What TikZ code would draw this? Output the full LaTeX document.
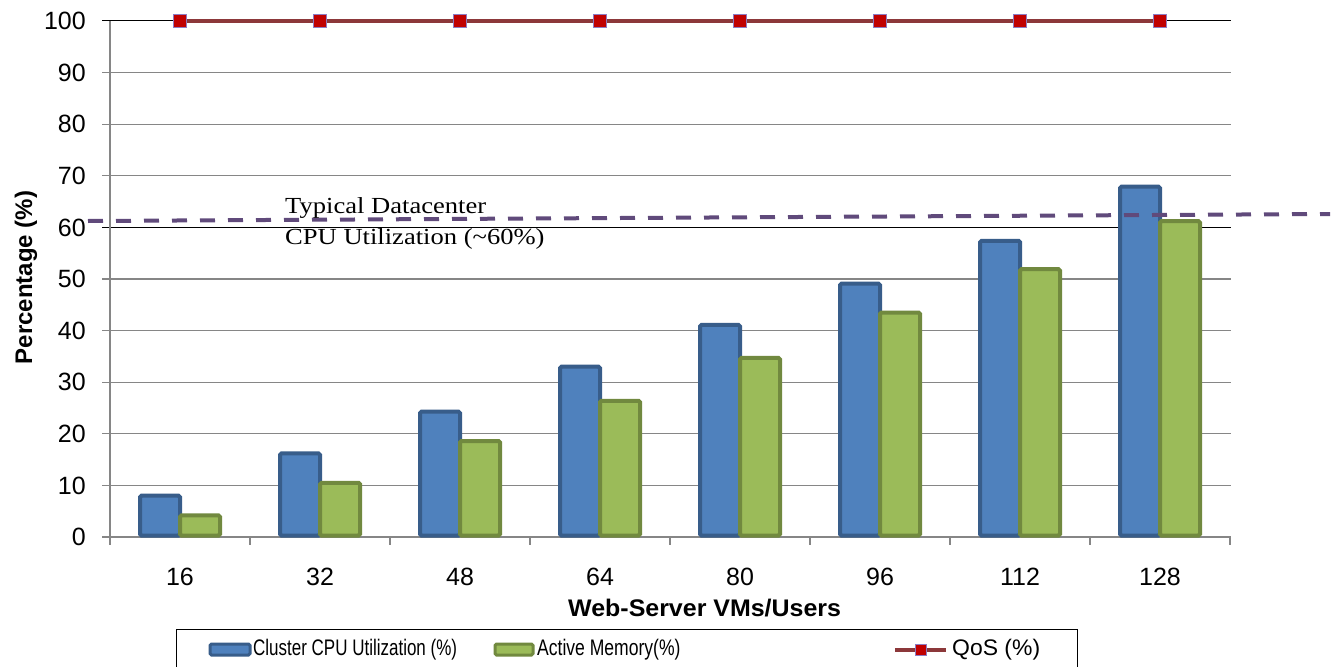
\documentclass[tikz,border=0pt]{standalone}
\usepackage{fontspec}
\setmainfont{Liberation Sans}
\newfontfamily\annotserif{Liberation Serif}

\definecolor{cpufill}{RGB}{79,129,189}
\definecolor{cpuedge}{RGB}{56,93,138}
\definecolor{memfill}{RGB}{155,187,89}
\definecolor{memedge}{RGB}{113,137,63}
\definecolor{qosline}{RGB}{140,56,58}
\definecolor{qosmarkfill}{RGB}{192,0,0}
\definecolor{qosmarkedge}{RGB}{142,124,195}
\definecolor{refline}{RGB}{96,74,123}
\definecolor{gridgray}{RGB}{134,134,134}

\tikzset{
  gridline/.style={draw=gridgray, line width=1.3pt},
  majorline/.style={draw=black, line width=1pt},
  axisline/.style={draw=gridgray, line width=1.3pt},
  cpubar/.style={draw=cpuedge, fill=cpufill, line width=4pt, rounded corners=1.5pt},
  membar/.style={draw=memedge, fill=memfill, line width=4pt, rounded corners=1.5pt},
  qosstroke/.style={draw=qosline, line width=3.5pt},
  qosmark/.style={draw=qosmarkedge, fill=qosmarkfill, line width=1.8pt,
    minimum size=13pt, inner sep=0pt, rectangle},
  ticklabel/.style={font=\fontsize{25}{30}\selectfont, inner sep=0pt},
  axistitle/.style={font=\fontsize{24}{29}\selectfont\bfseries, inner sep=0pt},
  legendtext/.style={font=\fontsize{22.5}{27}\selectfont, inner sep=0pt, anchor=west},
  annot/.style={font=\fontsize{23}{28}\selectfont\annotserif, inner sep=0pt, anchor=base west},
  datacenter/.style={draw=refline, line width=4pt, dash pattern=on 15pt off 13pt},
}

\begin{document}
\begin{tikzpicture}[x=1pt, y=-1pt]
  \clip (0,0) rectangle (1340,666);
  \fill[white] (0,0) rectangle (1340,666);

  % horizontal gridlines and value labels (0 at y=537, 5.16 per unit)
  \foreach \v in {10,20,30,40,50,70,80,90}
    \draw[gridline] (102,{537-5.16*\v}) -- (1231,{537-5.16*\v});
  \foreach \v in {60,100}
    \draw[majorline] (102,{537-5.16*\v}) -- (1231,{537-5.16*\v});
  \foreach \v in {0,10,...,100}
    \node[ticklabel, anchor=east] (ylab\v) at (86,{537-5.16*\v}) {\v};

  % axes
  \draw[axisline] (110,21) -- (110,537);
  \draw[axisline] (102,537) -- (1231,537);
  \foreach \k in {0,...,8}
    \draw[axisline] ({110+140*\k},537) -- ({110+140*\k},545);

  % bars: cluster CPU utilisation and active memory
  \foreach \c/\m/\lab [count=\i] in {8.0/4.2/16, 16.2/10.5/32, 24.3/18.6/48, 33.0/26.4/64,
                                     41.1/34.7/80, 49.1/43.5/96, 57.4/51.9/112, 67.9/61.2/128} {
    \pgfmathsetmacro{\cx}{40+140*\i}
    \draw[cpubar] ({\cx-40},535.5) rectangle (\cx,{537-5.16*\c});
    \draw[membar] (\cx,535.5) rectangle ({\cx+40},{537-5.16*\m});
    \node[ticklabel] (xlab\i) at (\cx,577) {\lab};
  }

  % QoS series
  \foreach \i in {1,...,8}
    \coordinate (qp\i) at ({40+140*\i},21);
  \draw[qosstroke] (qp1) -- (qp2) -- (qp3) -- (qp4) -- (qp5) -- (qp6) -- (qp7) -- (qp8);
  \foreach \i in {1,...,8}
    \node[qosmark] (qm\i) at (qp\i) {};

  % typical datacenter utilisation reference
  \coordinate (dcstart) at (88,221);
  \coordinate (dcend) at (1330,214);
  \draw[datacenter] (dcstart) -- (dcend);
  \node[annot] (ann1) at (285,213) {\scalebox{1.155}[1]{Typical Datacenter}};
  \node[annot] (ann2) at (285,244) {\scalebox{1.155}[1]{CPU Utilization (\textasciitilde60\%)}};

  % axis titles
  \node[axistitle, rotate=90, anchor=base] (ytitle) at (32,277.5) {Percentage (\%)};
  \node[axistitle, anchor=base west] (xtitle) at (568,616) {\scalebox{1.04}[1]{Web-Server VMs/Users}};

  % legend
  \draw[draw=black, line width=1pt] (176,629) rectangle (1077,700);
  \draw[cpubar, line width=3pt] (210,644) rectangle (250,655);
  \node[legendtext] (leg1) at (253,650) {\scalebox{0.755}[1]{Cluster CPU Utilization (\%)}};
  \draw[membar, line width=3pt] (495,644) rectangle (533,655);
  \node[legendtext] (leg2) at (537,650) {\scalebox{0.78}[1]{Active Memory(\%)}};
  \coordinate (lq1) at (895,650);
  \coordinate (lq2) at (946,650);
  \draw[qosstroke] (lq1) -- (lq2);
  \node[qosmark, minimum size=11pt] (lqm) at (921,650) {};
  \node[legendtext] (leg3) at (952,650) {\scalebox{1.02}[1]{QoS (\%)}};
\end{tikzpicture}
\end{document}
